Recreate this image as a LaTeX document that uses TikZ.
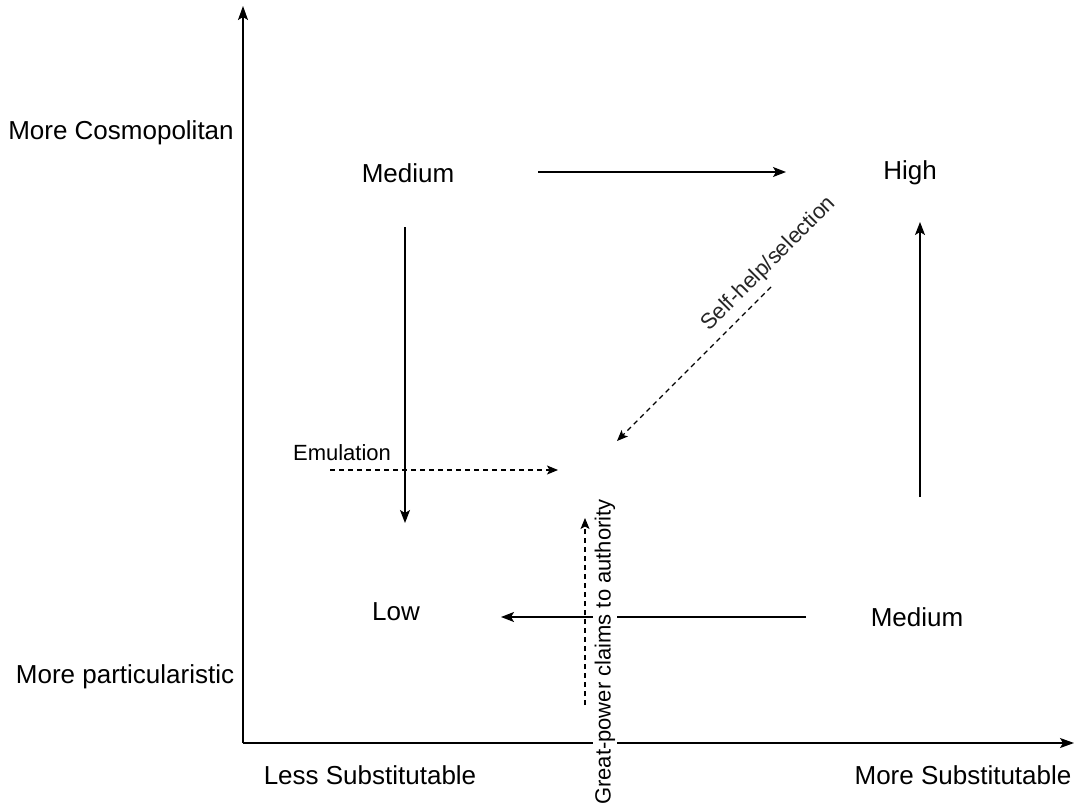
\documentclass[tikz,border=0pt]{standalone}
\usepackage{fontspec}
\setmainfont{Liberation Sans}
\usetikzlibrary{arrows.meta}
\begin{document}
\begin{tikzpicture}[x=1pt,y=-1pt,
  lbl/.style={font=\fontsize{26}{30}\selectfont, inner sep=0pt},
  small/.style={font=\fontsize{22}{26}\selectfont, inner sep=0pt},
  conn/.style={line width=1.3pt, -{Stealth[length=13pt,width=10pt,inset=3pt]}},
  dconn/.style={line width=1.1pt, dash pattern=on 5pt off 4pt, -{Stealth[length=11pt,width=9pt,inset=2.5pt]}},
  axis/.style={line width=1.3pt, -{Stealth[length=14pt,width=10pt,inset=3pt]}}]
\useasboundingbox[fill=white] (0,0) rectangle (1076,809);

% axes
\coordinate (origin) at (243,743);
\coordinate (ytop) at (243,6);
\coordinate (xend) at (1074,743);
\draw[axis] (origin) -- (ytop);
\draw[axis] (origin) -- (xend);

% axis labels
\node[lbl] (cosmo) at (121,133) {More Cosmopolitan};
\node[lbl] (partic) at (125,677) {More particularistic};
\node[lbl] (lesssub) at (370,775) {Less Substitutable};
\node[lbl] (moresub) at (963,775) {More Substitutable};

% levels
\node[lbl] (medTL) at (408,173) {Medium};
\node[lbl] (high) at (910,173) {High};
\node[lbl] (low) at (396,612) {Low};
\node[lbl] (medBR) at (917,617) {Medium};

% arrow end points
\coordinate (a1s) at (538,172);
\coordinate (a1e) at (786,172);
\coordinate (a2s) at (405,227);
\coordinate (a2e) at (405,523);
\coordinate (a3s) at (920,497);
\coordinate (a3e) at (920,222);
\coordinate (a4s) at (806,617);
\coordinate (a4e) at (501,617);

\draw[conn] (a1s) -- (a1e);
\draw[conn] (a2s) -- (a2e);
\draw[conn] (a3s) -- (a3e);
\draw[conn] (a4s) -- (a4e);

% emulation
\coordinate (e1s) at (330,470);
\coordinate (e1e) at (558,470);
\draw[dconn] (e1s) -- (e1e);
\node[small] (emul) at (342,453) {Emulation};

% self-help / selection
\coordinate (s1s) at (771,287);
\coordinate (s1e) at (617,441);
\draw[dconn] (s1s) -- (s1e);
\node[small, rotate=45, text=black!85] (self) at (769,264) {Self-help/selection};

% great-power claims
\coordinate (g1s) at (585,705);
\coordinate (g1e) at (585,518);
\draw[dconn] (g1s) -- (g1e);
\node[small, rotate=90, fill=white, inner xsep=2pt, inner ysep=2pt] (great) at (605,652) {Great-power claims to authority};
\end{tikzpicture}
\end{document}
